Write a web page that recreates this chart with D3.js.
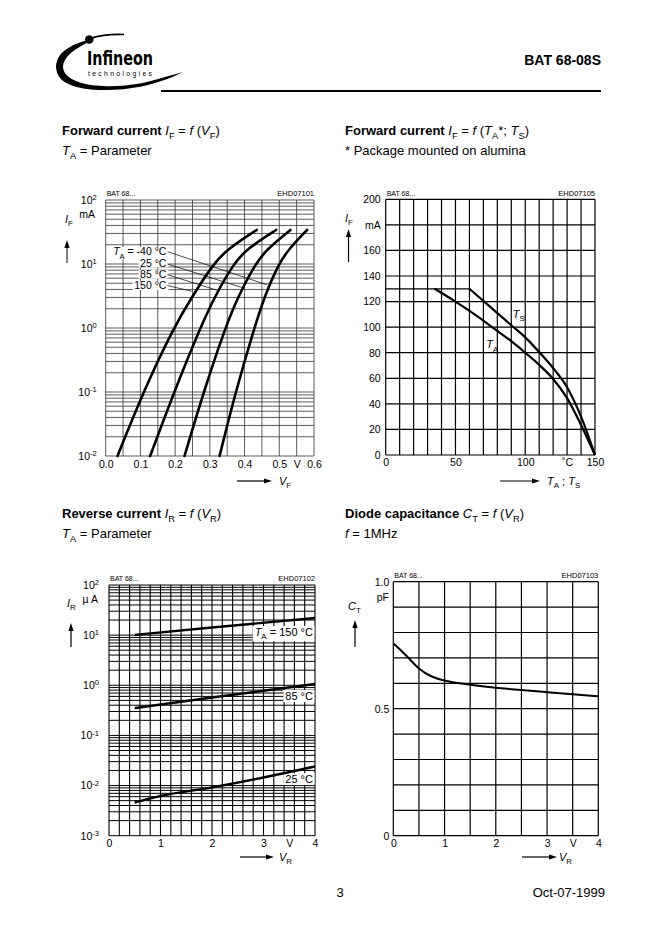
<!DOCTYPE html>
<html><head><meta charset="utf-8">
<script src="https://cdn.jsdelivr.net/npm/d3@7"></script>
<style>
body{margin:0;background:#fff}
svg{display:block}
text{font-family:"Liberation Sans",Arial,Helvetica,sans-serif;fill:#000}
</style>
</head><body><svg id="c" width="662" height="936"></svg>
<script>
// ---------------- DATA ----------------
// Chart 1: forward current IF (mA) vs VF (V), TA parameter
const fwdVoltTicks = [0, 0.1, 0.2, 0.3, 0.4, 0.5, 0.55, 0.6];
const fwdCurrTicks = [0.01, 0.1, 1, 10, 100];
const fwdT150 = [[0.034,0.01],[0.108,0.1],[0.195,1],[0.25,3.16],[0.31,10],[0.35,17],[0.435,34]];
const fwdT85  = [[0.128,0.01],[0.197,0.1],[0.272,1],[0.315,3.16],[0.368,10],[0.405,17],[0.491,34]];
const fwdT25  = [[0.227,0.01],[0.282,0.1],[0.344,1],[0.382,3.16],[0.431,10],[0.464,17],[0.532,34]];
const fwdTm40 = [[0.328,0.01],[0.374,0.1],[0.428,1],[0.458,3.16],[0.498,10],[0.527,17],[0.58,34]];
const fwdLabels = ["-40 °C", "25 °C", "85 °C", "150 °C"];
const fwdLabelI = [13.6, 9.0, 6.0, 4.0];          // label baselines (mA)
const fwdLeaderStartI = [15.6, 10.0, 6.8, 4.6];
const fwdLeaderEnd = [[0.466,4.7],[0.392,4.3],[0.32,3.9],[0.248,3.75]];

// Chart 2: forward current IF (mA) vs temperature
const tempTicks = [0, 50, 100, 130, 150];
const ifTicks = [0, 20, 40, 60, 80, 100, 120, 140, 160, 180, 200];
const ifLimit = [[0,130],[60,130]];
const curveTS = [[60,130],[70,120.5],[80,111],[90,101.5],[100,92],[110,80.5],[120,68],[130,53],[140,30],[150,0]];
const curveTA = [[35,130],[50,120],[65,109],[80,97],[90,89],[100,80],[110,70.5],[120,59.5],[130,44.5],[140,23.5],[150,0]];

// Chart 3: reverse current IR (uA) vs VR (V)
const revVoltTicks = [0, 1, 2, 3, 3.5, 4];
const revCurrTicks = [0.001, 0.01, 0.1, 1, 10, 100];
const revT150 = [[0.5,10.1],[2,14.2],[4,22]];
const revT85  = [[0.5,0.35],[2,0.57],[4,1.06]];
const revT25  = [[0.5,0.0046],[1,0.0062],[2,0.0092],[3,0.0145],[4,0.024]];
const revLabelI = [9.6, 0.51, 0.0112];

// Chart 4: diode capacitance CT (pF) vs VR (V)
const capVoltTicks = [0, 1, 2, 3, 3.5, 4];
const capTicks = [0, 0.5, 1.0];
const capCurve = [[0,0.757],[0.15,0.73],[0.3,0.7],[0.5,0.655],[0.75,0.624],[1,0.609],[1.5,0.593],[2,0.582],[2.5,0.573],[3,0.565],[3.5,0.557],[4,0.549]];

// ---------------- HELPERS ----------------
const svg = d3.select('#c');
svg.append('rect').attr('width',662).attr('height',936).attr('fill','#fff');

function rich(sel, x, y, parts, size, anchor) {
  const t = sel.append('text').attr('x',x).attr('y',y).attr('font-size',size).attr('text-anchor',anchor||'start');
  let shift = 0;
  parts.forEach(p => {
    if (typeof p === 'string') p = {t:p};
    const ts = t.append('tspan').text(p.t);
    if (p.b) ts.attr('font-weight','bold');
    if (p.i) ts.attr('font-style','italic');
    let target = 0;
    if (p.sub) { target = size*0.3; ts.attr('font-size', size*0.72); }
    if (p.sup) { target = -size*0.42; ts.attr('font-size', size*0.72); }
    if (target !== shift) ts.attr('dy', target - shift);
    shift = target;
  });
  return t;
}
function arrowUp(x, yTail, yTip, w) {
  svg.append('line').attr('x1',x).attr('x2',x).attr('y1',yTail).attr('y2',yTip+6).attr('stroke','#000').attr('stroke-width',w||1.2);
  svg.append('path').attr('d',`M${x},${yTip} L${x-2.6},${yTip+8} L${x+2.6},${yTip+8} Z`).attr('fill','#000');
}
function arrowRight(xTail, xTip, y) {
  svg.append('line').attr('x1',xTail).attr('x2',xTip-6).attr('y1',y).attr('y2',y).attr('stroke','#000').attr('stroke-width',1.2);
  svg.append('path').attr('d',`M${xTip},${y} L${xTip-8},${y-2.6} L${xTip-8},${y+2.6} Z`).attr('fill','#000');
}
function logGridVals(lo, hi) {
  const out = [];
  for (let d = lo; d < hi; d++) for (let m = 1; m <= 9; m++) out.push(m*Math.pow(10,d));
  out.push(Math.pow(10,hi));
  return out;
}
function supLabel(sel, d) {
  const e = Math.round(Math.log10(d));
  sel.text(null);
  sel.append('tspan').text('10');
  sel.append('tspan').text(e).attr('font-size','0.72em').attr('dy','-0.5em');
}
function styleAxis(g, size) {
  g.select('.domain').remove();
  g.selectAll('.tick line').remove();
  g.selectAll('text').attr('font-size',size).attr('fill','#000').style('font-family','"Liberation Sans",Arial,sans-serif');
}
function bgBox(textSel, padX, padY) {
  const b = textSel.node().getBBox();
  return svg.insert('rect', () => textSel.node()).attr('x',b.x-padX).attr('y',b.y+padY).attr('width',b.width+2*padX).attr('height',b.height-2*padY).attr('fill','#fff');
}

// ---------------- HEADER ----------------
(function logo(){
  const outer = [[183.3,71.7],[166.7,79.3],[140,86.7],[106.7,90],[76.7,87],[60.5,78.5],[56,66.7],[60,55],[71.7,46],[86,40.5]];
  const inner = [[86.7,43],[76.7,48.8],[67,57],[63,66.7],[66.5,75],[80,82.5],[106.7,86.2],[140,83.5],[166,76.8],[183.3,71.7]];
  const ln = d3.line().curve(d3.curveCatmullRom);
  svg.append('path').attr('d', ln(outer) + 'L' + ln(inner).slice(1) + 'Z').attr('fill','#000');
  svg.append('circle').attr('cx',89.3).attr('cy',39.5).attr('r',4.3).attr('fill','#000');
  svg.append('path').attr('d','M90,38.5 Q106,33.5 124,34.5').attr('fill','none').attr('stroke','#000').attr('stroke-width',1.6);
  svg.append('text').attr('x',87).attr('y',65).attr('font-size',20).attr('textLength',66).attr('lengthAdjust','spacingAndGlyphs')
    .style('font-family','"Liberation Sans Narrow","DejaVu Sans Condensed","Liberation Sans",sans-serif').attr('font-weight','bold').text('Infineon');
  svg.append('text').attr('x',88).attr('y',75.5).attr('font-size',6.8).attr('textLength',64).attr('lengthAdjust','spacing').text('technologies');
})();
svg.append('text').attr('x',601).attr('y',65).attr('font-size',14).attr('font-weight','bold').attr('text-anchor','end').text('BAT 68-08S');
svg.append('line').attr('x1',161).attr('x2',601).attr('y1',91).attr('y2',91).attr('stroke','#000').attr('stroke-width',2);

// ---------------- HEADINGS ----------------
rich(svg, 62, 135, [{t:'Forward current ',b:true},{t:'I',i:true},{t:'F',sub:true},' = ',{t:'f',i:true},' (',{t:'V',i:true},{t:'F',sub:true},')'], 13);
rich(svg, 62, 155, [{t:'T',i:true},{t:'A',sub:true},' = Parameter'], 13);
rich(svg, 345, 135, [{t:'Forward current ',b:true},{t:'I',i:true},{t:'F',sub:true},' = ',{t:'f',i:true},' (',{t:'T',i:true},{t:'A',sub:true},'*; ',{t:'T',i:true},{t:'S',sub:true},')'], 13);
rich(svg, 345, 155, ['* Package mounted on alumina'], 13);
rich(svg, 62, 518, [{t:'Reverse current ',b:true},{t:'I',i:true},{t:'R',sub:true},' = ',{t:'f',i:true},' (',{t:'V',i:true},{t:'R',sub:true},')'], 13);
rich(svg, 62, 538, [{t:'T',i:true},{t:'A',sub:true},' = Parameter'], 13);
rich(svg, 345, 518, [{t:'Diode capacitance ',b:true},{t:'C',i:true},{t:'T',sub:true},' = ',{t:'f',i:true},' (',{t:'V',i:true},{t:'R',sub:true},')'], 13);
rich(svg, 345, 538, [{t:'f',i:true},' = 1MHz'], 13);

// ---------------- CHART 1 ----------------
(function(){
  const x = d3.scaleLinear().domain([0,0.6]).range([105.7,314]);
  const y = d3.scaleLog().domain([0.01,100]).range([456,200]);
  const g = svg.append('g');
  g.selectAll('.v').data(d3.range(13).map(i=>i*0.05)).join('line')
    .attr('x1',d=>x(d)).attr('x2',d=>x(d)).attr('y1',y(0.01)).attr('y2',y(100)).attr('stroke','#333').attr('stroke-width',0.8);
  g.selectAll('.h').data(logGridVals(-2,2)).join('line')
    .attr('x1',x(0)).attr('x2',x(0.6)).attr('y1',d=>y(d)).attr('y2',d=>y(d)).attr('stroke','#333').attr('stroke-width',0.8);
  const ax = svg.append('g').attr('transform',`translate(0,${y(0.01)})`)
    .call(d3.axisBottom(x).tickValues(fwdVoltTicks).tickSize(0).tickPadding(5).tickFormat(d=>Math.abs(d-0.55)<1e-6?'V':d3.format('.1f')(d)));
  styleAxis(ax, 10.5);
  const ay = svg.append('g').attr('transform',`translate(${x(0)},0)`)
    .call(d3.axisLeft(y).tickValues(fwdCurrTicks).tickSize(0).tickPadding(9));
  styleAxis(ay, 10.5);
  ay.selectAll('.tick text').each(function(d){ supLabel(d3.select(this), d); });
  svg.append('text').attr('x',95).attr('y',218).attr('font-size',10.5).attr('text-anchor','end').text('mA');
  svg.append('text').attr('x',x(0)+1).attr('y',196).attr('font-size',7).text('BAT 68...');
  svg.append('text').attr('x',x(0.6)).attr('y',196).attr('font-size',7.5).attr('text-anchor','end').text('EHD07101');
  rich(svg, 65, 223, [{t:'I',i:true},{t:'F',sub:true}], 11);
  arrowUp(67, 263, 240, 1);
  arrowRight(237, 272, 481);
  rich(svg, 279, 485, [{t:'V',i:true},{t:'F',sub:true}], 11);
  fwdLabels.forEach((lab, i) => {
    const parts = i===0 ? [{t:'T',i:true},{t:'A',sub:true},' = '+lab] : [lab];
    const t = rich(svg, x(0.175), y(fwdLabelI[i]), parts, 10.5, 'end');
    bgBox(t, 1.5, 1.5);
    svg.append('line').attr('x1',x(0.178)).attr('y1',y(fwdLeaderStartI[i]))
      .attr('x2',x(fwdLeaderEnd[i][0])).attr('y2',y(fwdLeaderEnd[i][1])).attr('stroke','#000').attr('stroke-width',0.7);
  });
  const line = d3.line().x(d=>x(d[0])).y(d=>y(d[1])).curve(d3.curveBasis);
  [fwdT150, fwdT85, fwdT25, fwdTm40].forEach(s => {
    svg.append('path').attr('d',line(s)).attr('fill','none').attr('stroke','#000').attr('stroke-width',2.6).attr('stroke-linecap','round');
  });
})();

// ---------------- CHART 2 ----------------
(function(){
  const x = d3.scaleLinear().domain([0,150]).range([385.7,595]);
  const y = d3.scaleLinear().domain([0,200]).range([455,199.3]);
  const g = svg.append('g');
  g.selectAll('.v').data(d3.range(16).map(i=>i*10)).join('line')
    .attr('x1',d=>x(d)).attr('x2',d=>x(d)).attr('y1',y(0)).attr('y2',y(200)).attr('stroke','#000').attr('stroke-width',1.2);
  g.selectAll('.h').data(d3.range(11).map(i=>i*20)).join('line')
    .attr('x1',x(0)).attr('x2',x(150)).attr('y1',d=>y(d)).attr('y2',d=>y(d)).attr('stroke','#000').attr('stroke-width',1.2);
  const lim = d3.line().x(d=>x(d[0])).y(d=>y(d[1]));
  svg.append('path').attr('d',lim(ifLimit)).attr('stroke','#000').attr('stroke-width',1.2).attr('fill','none');
  const ax = svg.append('g').attr('transform',`translate(0,${y(0)})`)
    .call(d3.axisBottom(x).tickValues(tempTicks).tickSize(0).tickPadding(4).tickFormat(d=>d===130?'˚C':d));
  styleAxis(ax, 10.5);
  const ay = svg.append('g').attr('transform',`translate(${x(0)},0)`)
    .call(d3.axisLeft(y).tickValues(ifTicks).tickSize(0).tickPadding(5).tickFormat(d=>d===180?'mA':d));
  styleAxis(ay, 10.5);
  svg.append('text').attr('x',x(0)+1).attr('y',196).attr('font-size',7).text('BAT 68...');
  svg.append('text').attr('x',x(150)).attr('y',196).attr('font-size',7.5).attr('text-anchor','end').text('EHD07105');
  rich(svg, 345, 222, [{t:'I',i:true},{t:'F',sub:true}], 11);
  arrowUp(348.5, 262, 229, 1.2);
  arrowRight(500, 540, 481);
  rich(svg, 547, 485, [{t:'T',i:true},{t:'A',sub:true},' ; ',{t:'T',i:true},{t:'S',sub:true}], 11);
  const line = d3.line().x(d=>x(d[0])).y(d=>y(d[1])).curve(d3.curveMonotoneX);
  [curveTS, curveTA].forEach(s => svg.append('path').attr('d',line(s)).attr('fill','none').attr('stroke','#000').attr('stroke-width',2.2));
  rich(svg, x(91), y(107.5), [{t:'T',i:true},{t:'S',sub:true}], 11);
  rich(svg, x(72), y(83.5), [{t:'T',i:true},{t:'A',sub:true}], 11);
})();

// ---------------- CHART 3 ----------------
(function(){
  const x = d3.scaleLinear().domain([0,4]).range([109,315]);
  const y = d3.scaleLog().domain([0.001,100]).range([835.7,585]);
  const g = svg.append('g');
  g.selectAll('.v').data(d3.range(21).map(i=>i*0.2)).join('line')
    .attr('x1',d=>x(d)).attr('x2',d=>x(d)).attr('y1',y(0.001)).attr('y2',y(100)).attr('stroke','#000').attr('stroke-width',1.1);
  g.selectAll('.h').data(logGridVals(-3,2)).join('line')
    .attr('x1',x(0)).attr('x2',x(4)).attr('y1',d=>y(d)).attr('y2',d=>y(d)).attr('stroke','#000').attr('stroke-width',1);
  const ax = svg.append('g').attr('transform',`translate(0,${y(0.001)})`)
    .call(d3.axisBottom(x).tickValues(revVoltTicks).tickSize(0).tickPadding(4).tickFormat(d=>d===3.5?'V':d));
  styleAxis(ax, 10.5);
  const ay = svg.append('g').attr('transform',`translate(${x(0)},0)`)
    .call(d3.axisLeft(y).tickValues(revCurrTicks).tickSize(0).tickPadding(10));
  styleAxis(ay, 10.5);
  ay.selectAll('.tick text').each(function(d){ supLabel(d3.select(this), d); });
  svg.append('text').attr('x',98).attr('y',603).attr('font-size',10.5).attr('text-anchor','end').text('µ A');
  svg.append('text').attr('x',x(0)+1).attr('y',581).attr('font-size',7).text('BAT 68...');
  svg.append('text').attr('x',x(4)).attr('y',581).attr('font-size',7.5).attr('text-anchor','end').text('EHD07102');
  rich(svg, 67, 607, [{t:'I',i:true},{t:'R',sub:true}], 11);
  arrowUp(71, 647, 623, 1.2);
  arrowRight(240, 274, 857);
  rich(svg, 279, 861, [{t:'V',i:true},{t:'R',sub:true}], 11);
  const labs = [[{t:'T',i:true},{t:'A',sub:true},' = 150 °C'], ['85 °C'], ['25 °C']];
  labs.forEach((p,i) => {
    const t = rich(svg, x(3.96), y(revLabelI[i]), p, 11, 'end');
    const b = t.node().getBBox();
    svg.insert('rect', () => t.node()).attr('x',b.x-2).attr('y',b.y).attr('width',x(4)-b.x+1.5).attr('height',b.height).attr('fill','#fff');
  });
  const line = d3.line().x(d=>x(d[0])).y(d=>y(d[1])).curve(d3.curveMonotoneX);
  [revT150, revT85, revT25].forEach(s => svg.append('path').attr('d',line(s)).attr('fill','none').attr('stroke','#000').attr('stroke-width',2.4));
})();

// ---------------- CHART 4 ----------------
(function(){
  const x = d3.scaleLinear().domain([0,4]).range([393.3,598.3]);
  const y = d3.scaleLinear().domain([0,1]).range([835.7,581.7]);
  const g = svg.append('g');
  g.selectAll('.v').data(d3.range(9).map(i=>i*0.5)).join('line')
    .attr('x1',d=>x(d)).attr('x2',d=>x(d)).attr('y1',y(0)).attr('y2',y(1)).attr('stroke','#000').attr('stroke-width',1.2);
  g.selectAll('.h').data(d3.range(11).map(i=>i*0.1)).join('line')
    .attr('x1',x(0)).attr('x2',x(4)).attr('y1',d=>y(d)).attr('y2',d=>y(d)).attr('stroke','#000').attr('stroke-width',1.2);
  const ax = svg.append('g').attr('transform',`translate(0,${y(0)})`)
    .call(d3.axisBottom(x).tickValues(capVoltTicks).tickSize(0).tickPadding(4).tickFormat(d=>d===3.5?'V':d));
  styleAxis(ax, 10.5);
  const ay = svg.append('g').attr('transform',`translate(${x(0)},0)`)
    .call(d3.axisLeft(y).tickValues(capTicks).tickSize(0).tickPadding(4).tickFormat(d=>d===0?'0':d3.format('.1f')(d)));
  styleAxis(ay, 10.5);
  svg.append('text').attr('x',389).attr('y',601).attr('font-size',10.5).attr('text-anchor','end').text('pF');
  svg.append('text').attr('x',x(0)+1).attr('y',578).attr('font-size',7).text('BAT 68...');
  svg.append('text').attr('x',x(4)).attr('y',578).attr('font-size',7.5).attr('text-anchor','end').text('EHD07103');
  rich(svg, 348, 610, [{t:'C',i:true},{t:'T',sub:true}], 11);
  arrowUp(355, 647, 620, 1.2);
  arrowRight(522, 557, 857);
  rich(svg, 559, 861, [{t:'V',i:true},{t:'R',sub:true}], 11);
  const line = d3.line().x(d=>x(d[0])).y(d=>y(d[1])).curve(d3.curveBasis);
  svg.append('path').attr('d',line(capCurve)).attr('fill','none').attr('stroke','#000').attr('stroke-width',2);
})();

// ---------------- FOOTER ----------------
svg.append('text').attr('x',340).attr('y',897).attr('font-size',13).attr('text-anchor','middle').text('3');
svg.append('text').attr('x',605).attr('y',897).attr('font-size',13).attr('text-anchor','end').text('Oct-07-1999');
</script>
</body></html>
